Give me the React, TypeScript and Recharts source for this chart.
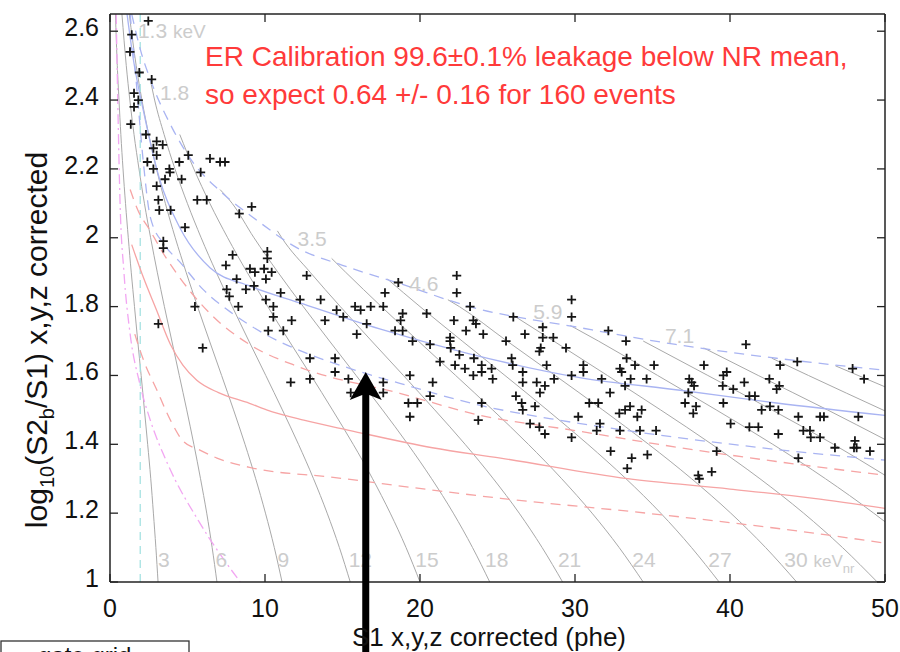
import React from 'react';
import { ComposedChart, Line, Scatter, XAxis, YAxis, ReferenceDot } from 'recharts';

type Pt = [number, number];

const xTicks = [0, 10, 20, 30, 40, 50];
const yTicks = [1, 1.2, 1.4, 1.6, 1.8, 2, 2.2, 2.4, 2.6];

// ER band (blue): mean and +/- limits
const erMean: Pt[] = [[1.1, 2.65], [1.5, 2.52], [2.15, 2.37], [3.2, 2.17], [4.5, 2.03], [6.45, 1.913], [9, 1.86], [12.3, 1.81], [17.4, 1.735], [23, 1.665], [30.3, 1.594], [36.8, 1.557], [43, 1.52], [50, 1.484]];
const erUpper: Pt[] = [[1.4, 2.65], [2.0, 2.54], [2.6, 2.46], [4, 2.32], [5.5, 2.21], [7, 2.14], [9.5, 2.05], [12.1, 1.97], [15, 1.92], [18.7, 1.867], [23.2, 1.8], [30.3, 1.739], [36.5, 1.69], [43, 1.65], [50, 1.615]];
const erLower: Pt[] = [[1.3, 2.65], [1.7, 2.45], [2.15, 2.22], [2.6, 2.06], [3.5, 1.98], [4.5, 1.93], [6, 1.85], [7.9, 1.78], [10, 1.72], [12.7, 1.664], [15.5, 1.62], [18.7, 1.577], [23.9, 1.513], [29, 1.47], [34.6, 1.432], [42, 1.39], [50, 1.354]];

// NR band (red)
const nrMean: Pt[] = [[1.4, 1.98], [2.15, 1.885], [3.0, 1.79], [3.9, 1.69], [4.7, 1.63], [5.6, 1.586], [7.0, 1.55], [9.0, 1.519], [10.1, 1.5], [12.5, 1.47], [15.5, 1.44], [20.8, 1.39], [25.2, 1.36], [33.4, 1.3], [40, 1.27], [45.4, 1.243], [50, 1.214]];
const nrUpper: Pt[] = [[1.3, 2.14], [1.8, 2.08], [2.6, 2.02], [3.5, 1.95], [4.5, 1.884], [6.45, 1.78], [9, 1.69], [12.3, 1.623], [18.7, 1.548], [23.9, 1.484], [30, 1.44], [36.8, 1.39], [43, 1.35], [50, 1.31]];
const nrLower: Pt[] = [[1.6, 1.72], [2.2, 1.64], [3.0, 1.56], [3.9, 1.47], [4.7, 1.41], [5.8, 1.383], [6.9, 1.36], [9, 1.333], [14.4, 1.304], [20.8, 1.267], [25.2, 1.243], [34.6, 1.2], [45.4, 1.142], [50, 1.113]];

const s2Threshold: Pt[] = [[0.4, 2.65], [0.5, 2.4], [0.65, 2.1], [0.9, 1.9], [1.3, 1.72], [1.9, 1.58], [2.6, 1.47], [3.7, 1.345], [5.8, 1.171], [8.4, 1.0]];
const s1Threshold: Pt[] = [[1.95, 1.0], [1.95, 2.65]];

// constant-energy contours (3, 6, 9 ... keVnr)
const contours: Pt[][] = [
  [[0.35, 2.65], [0.47, 2.5], [0.58, 2.4], [0.7, 2.3], [0.84, 2.2], [1.0, 2.1], [1.18, 2.0], [1.37, 1.9], [1.58, 1.8], [1.79, 1.7], [2.01, 1.6], [2.22, 1.5], [2.43, 1.4], [2.63, 1.3], [2.8, 1.2], [2.96, 1.1], [3.1, 1.0]],
  [[0.77, 2.65], [1.05, 2.5], [1.28, 2.4], [1.55, 2.3], [1.87, 2.2], [2.22, 2.1], [2.62, 2.0], [3.05, 1.9], [3.51, 1.8], [3.99, 1.7], [4.47, 1.6], [4.95, 1.5], [5.41, 1.4], [5.84, 1.3], [6.24, 1.2], [6.59, 1.1], [6.9, 1.0]],
  [[1.24, 2.65], [1.69, 2.5], [2.06, 2.4], [2.5, 2.3], [3.0, 2.2], [3.57, 2.1], [4.21, 2.0], [4.91, 1.9], [5.65, 1.8], [6.42, 1.7], [7.2, 1.6], [7.97, 1.5], [8.71, 1.4], [9.4, 1.3], [10.03, 1.2], [10.6, 1.1], [11.1, 1.0]],
  [[2.6, 2.46], [2.88, 2.4], [3.49, 2.3], [4.19, 2.2], [4.99, 2.1], [5.88, 2.0], [6.85, 1.9], [7.89, 1.8], [8.96, 1.7], [10.05, 1.6], [11.12, 1.5], [12.16, 1.4], [13.13, 1.3], [14.01, 1.2], [14.8, 1.1], [15.5, 1.0]],
  [[4.5, 2.3], [5.41, 2.2], [6.44, 2.1], [7.59, 2.0], [8.84, 1.9], [10.18, 1.8], [11.56, 1.7], [12.97, 1.6], [14.35, 1.5], [15.69, 1.4], [16.94, 1.3], [18.08, 1.2], [19.1, 1.1], [20, 1.0]],
  [[7.1, 2.14], [7.88, 2.1], [9.29, 2.0], [10.83, 1.9], [12.47, 1.8], [14.16, 1.7], [15.88, 1.6], [17.58, 1.5], [19.22, 1.4], [20.75, 1.3], [22.15, 1.2], [23.39, 1.1], [24.5, 1.0]],
  [[10.8, 2.02], [11.08, 2.0], [12.91, 1.9], [14.86, 1.8], [16.88, 1.7], [18.93, 1.6], [20.95, 1.5], [22.91, 1.4], [24.73, 1.3], [26.4, 1.2], [27.88, 1.1], [29.2, 1.0]],
  [[14.3, 1.94], [15.2, 1.9], [17.51, 1.8], [19.89, 1.7], [22.3, 1.6], [24.69, 1.5], [26.99, 1.4], [29.14, 1.3], [31.1, 1.2], [32.85, 1.1], [34.4, 1.0]],
  [[17.9, 1.88], [20.0, 1.8], [22.72, 1.7], [25.48, 1.6], [28.2, 1.5], [30.83, 1.4], [33.29, 1.3], [35.53, 1.2], [37.52, 1.1], [39.3, 1.0]],
  [[21.8, 1.82], [22.54, 1.8], [25.61, 1.7], [28.72, 1.6], [31.79, 1.5], [34.75, 1.4], [37.52, 1.3], [40.05, 1.2], [42.3, 1.1], [44.3, 1.0]],
  [[26, 1.775], [28.62, 1.7], [32.09, 1.6], [35.52, 1.5], [38.83, 1.4], [41.93, 1.3], [44.75, 1.2], [47.26, 1.1], [49.5, 1.0]],
  [[29.7, 1.745], [31.51, 1.7], [35.33, 1.6], [39.11, 1.5], [42.76, 1.4], [46.16, 1.3], [49.27, 1.2], [50, 1.175]],
  [[34.4, 1.7], [38.57, 1.6], [42.7, 1.5], [46.68, 1.4], [50, 1.31]],
  [[38.3, 1.68], [41.82, 1.6], [46.29, 1.5], [50, 1.414]],
  [[42.7, 1.65], [45.06, 1.6], [50, 1.497]],
  [[46.8, 1.628], [50, 1.567]],
];

const nrLabels: [string, number][] = [['3', 3.1], ['6', 6.8], ['9', 10.8], ['12', 15.4], ['15', 19.7], ['18', 24.2], ['21', 28.9], ['24', 33.7], ['27', 38.6]];
const eeLabels: [string, number, number][] = [['1.8', 3.23, 2.4], ['3.5', 12.1, 1.977], ['4.6', 19.3, 1.846], ['5.9', 27.3, 1.765], ['7.1', 35.8, 1.693]];

// events
const eventsLow: Pt[] = [[2.47, 2.63], [1.4, 2.59], [1.29, 2.54], [1.89, 2.48], [2.69, 2.46], [1.55, 2.42], [1.83, 2.4], [1.55, 2.38], [1.34, 2.33], [2.32, 2.3], [3.01, 2.28], [3.4, 2.27], [2.8, 2.26], [3.01, 2.24], [2.41, 2.22], [5.05, 2.24], [4.47, 2.22], [2.8, 2.2], [3.83, 2.2], [3.87, 2.19], [6.45, 2.23], [7.1, 2.22], [7.42, 2.22], [5.85, 2.19], [3.55, 2.17], [4.62, 2.17], [3.01, 2.15], [3.12, 2.11], [3.18, 2.08], [3.91, 2.08], [5.63, 2.11], [6.24, 2.11], [8.34, 2.07], [9.14, 2.09],
  [4.84, 2.03], [3.44, 1.99], [3.44, 1.97], [7.91, 1.95], [7.48, 1.92], [10.15, 1.96], [10.15, 1.94], [9.94, 1.91], [10.43, 1.9], [9.03, 1.91], [9.35, 1.9], [8.17, 1.88], [10.06, 1.88], [12.69, 1.89], [9.29, 1.86], [8.77, 1.85], [7.53, 1.85], [7.7, 1.83], [11.01, 1.84], [10.06, 1.82], [12.26, 1.82], [13.59, 1.82], [14.62, 1.79], [10.54, 1.8], [8.28, 1.8], [10.54, 1.77], [11.72, 1.76], [13.87, 1.76], [5.48, 1.8], [10.21, 1.73], [11.18, 1.73], [3.12, 1.75], [5.98, 1.68], [12.9, 1.65], [14.52, 1.65], [14.52, 1.61], [12.9, 1.59], [11.66, 1.58]];
const eventsMid: Pt[] = [[22.37, 1.89], [18.6, 1.87], [22.37, 1.84], [17.74, 1.84], [15.81, 1.8], [16.17, 1.79], [16.82, 1.8], [17.63, 1.8], [15.05, 1.77], [18.88, 1.78], [18.75, 1.76], [20.43, 1.78], [23.23, 1.8], [26.02, 1.77], [16.56, 1.75], [15.92, 1.72], [18.39, 1.73], [18.88, 1.73], [19.52, 1.7], [20.65, 1.69], [22.19, 1.76], [23.44, 1.76], [23.61, 1.75], [22.97, 1.73], [24.08, 1.72], [21.94, 1.71], [21.94, 1.7], [21.98, 1.68], [22.54, 1.66], [23.48, 1.65], [25.55, 1.7], [26.77, 1.72], [27.92, 1.74], [27.92, 1.71], [27.79, 1.68], [27.7, 1.67], [25.91, 1.65], [25.98, 1.63], [28.17, 1.63], [21.29, 1.64], [22.26, 1.63], [22.9, 1.62], [23.98, 1.63], [24.62, 1.62], [23.98, 1.61], [23.44, 1.6], [24.69, 1.59], [26.63, 1.61], [26.63, 1.58], [27.53, 1.58], [28.06, 1.57], [27.74, 1.55], [26.19, 1.54], [26.56, 1.52], [26.63, 1.5], [27.42, 1.51], [27.1, 1.46], [27.7, 1.45], [28.06, 1.43], [15.38, 1.59], [17.63, 1.58], [15.53, 1.55], [17.63, 1.55], [19.35, 1.6], [20.82, 1.58], [20.65, 1.54], [19.25, 1.52], [19.83, 1.52], [19.35, 1.48], [23.98, 1.52], [23.76, 1.47]];
const eventsHigh: Pt[] = [[29.78, 1.82], [29.78, 1.77], [32.15, 1.73], [28.6, 1.71], [29.42, 1.68], [33.29, 1.7], [33.33, 1.65], [33.87, 1.63], [32.9, 1.62], [33.01, 1.61], [33.59, 1.59], [33.23, 1.57], [30.54, 1.63], [30.54, 1.61], [28.65, 1.59], [29.78, 1.6], [31.72, 1.59], [34.62, 1.59], [35.1, 1.63], [32.26, 1.55], [30.92, 1.52], [31.5, 1.52], [33.55, 1.51], [34.3, 1.5], [33.23, 1.5], [32.86, 1.49], [34.02, 1.48], [30.21, 1.48], [31.61, 1.46], [31.4, 1.44], [32.9, 1.44], [34.19, 1.44], [35.23, 1.44], [29.78, 1.42], [32.3, 1.38], [34.67, 1.37], [33.66, 1.36], [33.37, 1.33], [38.32, 1.63], [37.37, 1.59], [37.53, 1.58], [37.68, 1.57], [37.31, 1.55], [37.1, 1.52], [37.81, 1.51], [37.63, 1.49], [39.14, 1.38], [38.82, 1.32], [37.95, 1.31], [38.02, 1.3],
  [41.03, 1.69], [44.34, 1.64], [47.91, 1.62], [48.65, 1.59], [43.23, 1.63], [39.79, 1.61], [39.57, 1.6], [40.92, 1.58], [42.54, 1.59], [43.18, 1.57], [43.01, 1.56], [39.53, 1.57], [40.21, 1.56], [41.25, 1.54], [41.61, 1.54], [39.57, 1.52], [42.04, 1.5], [42.58, 1.51], [43.12, 1.5], [44.41, 1.48], [45.81, 1.48], [46.06, 1.48], [48.28, 1.48], [40.04, 1.46], [41.25, 1.45], [41.83, 1.45], [43.12, 1.43], [44.73, 1.44], [45.16, 1.44], [45.21, 1.42], [45.81, 1.42], [46.77, 1.39], [48.06, 1.41], [48.0, 1.39], [48.17, 1.39], [49.03, 1.38], [44.41, 1.36]];

const toRows = (pts: Pt[]) => pts.map(([x, y]) => ({ x, y }));
const events = toRows([...eventsLow, ...eventsMid, ...eventsHigh]);

const FONT = '"Liberation Sans", Arial, Helvetica, sans-serif';
const LABEL_GREY = '#cccccc';
const AXIS = { stroke: '#222', strokeWidth: 1.5 };

const Plus = (p: any) => {
  const { cx, cy } = p;
  if (cx == null || cy == null) return null;
  return <path d={`M${cx - 4.5},${cy}H${cx + 4.5}M${cx},${cy - 4.5}V${cy + 4.5}`} stroke="#151515" strokeWidth={1.8} />;
};

const BottomTick = (p: any) => (
  <g>
    <line x1={p.x} y1={p.y} x2={p.x} y2={p.y - 8} stroke="#222" strokeWidth={1.3} />
    <text x={p.x} y={p.y + 35} textAnchor="middle" fontSize={25} fontFamily={FONT} fill="#111">{p.payload.value}</text>
  </g>
);
const TopTick = (p: any) => <line x1={p.x} y1={p.y} x2={p.x} y2={p.y + 8} stroke="#222" strokeWidth={1.3} />;
const LeftTick = (p: any) => (
  <g>
    <line x1={p.x} y1={p.y} x2={p.x + 8} y2={p.y} stroke="#222" strokeWidth={1.3} />
    <text x={p.x - 11} y={p.y + 5} textAnchor="end" fontSize={25} fontFamily={FONT} fill="#111">{String(p.payload.value)}</text>
  </g>
);
const RightTick = (p: any) => <line x1={p.x} y1={p.y} x2={p.x - 8} y2={p.y} stroke="#222" strokeWidth={1.3} />;

const greyText = (label: React.ReactNode) => (p: any) => (
  <text x={p.cx} y={p.cy} fontSize={21} fontFamily={FONT} fill={LABEL_GREY}>{label}</text>
);

const Arrow = (p: any) => {
  const { cx, cy } = p;
  return <path d={`M${cx},${cy} L${cx + 16},${cy + 28} L${cx + 3.5},${cy + 23} L${cx + 3.5},${cy + 400} L${cx - 3.5},${cy + 400} L${cx - 3.5},${cy + 23} L${cx - 16},${cy + 28} Z`} fill="#000" />;
};

const band = (pts: Pt[], color: string, dash?: string, key?: string) => (
  <Line key={key} data={toRows(pts)} dataKey="y" type="monotone" dot={false} stroke={color} strokeWidth={1.3} strokeDasharray={dash} isAnimationActive={false} />
);

export default function App() {
  return (
    <div style={{ position: 'absolute', left: 0, top: 0, width: 900, height: 652, overflow: 'hidden', background: '#fff' }}>
      <ComposedChart width={900} height={652} margin={{ top: 10, right: 11, bottom: 40, left: 50 }}>
        <XAxis dataKey="x" type="number" domain={[0, 50]} ticks={xTicks} interval={0} allowDataOverflow height={30} tickSize={0} tickMargin={0} tickLine={false} tick={BottomTick} axisLine={AXIS} />
        <XAxis xAxisId="top" orientation="top" dataKey="x" type="number" domain={[0, 50]} ticks={xTicks} interval={0} allowDataOverflow height={4} tickSize={0} tickMargin={0} tickLine={false} tick={TopTick} axisLine={AXIS} />
        <YAxis type="number" domain={[1, 2.65]} ticks={yTicks} interval={0} allowDataOverflow width={60} tickSize={0} tickMargin={0} tickLine={false} tick={LeftTick} axisLine={AXIS} />
        <YAxis yAxisId="right" orientation="right" type="number" domain={[1, 2.65]} ticks={yTicks} interval={0} allowDataOverflow width={4} tickSize={0} tickMargin={0} tickLine={false} tick={RightTick} axisLine={AXIS} />

        {contours.map((c, i) => (
          <Line key={`c${i}`} data={toRows(c)} dataKey="y" type="monotone" dot={false} stroke="#a9a9a9" strokeWidth={1} isAnimationActive={false} />
        ))}
        {band(s1Threshold, '#a6e2e2', '8 6', 's1')}
        {band(s2Threshold, '#f2a6f2', '10 4 2 4', 's2')}
        {band(nrMean, '#f6a4a4', undefined, 'nm')}
        {band(nrUpper, '#f6a4a4', '10 7', 'nu')}
        {band(nrLower, '#f6a4a4', '10 7', 'nl')}
        {band(erMean, '#a9b4f2', undefined, 'em')}
        {band(erUpper, '#a9b4f2', '10 7', 'eu')}
        {band(erLower, '#a9b4f2', '10 7', 'el')}

        {nrLabels.map(([t, x]) => (
          <ReferenceDot key={`n${t}`} x={x} y={1.043} r={0} shape={greyText(t)} />
        ))}
        <ReferenceDot x={43.5} y={1.043} r={0} shape={greyText(<>30 <tspan fontSize={17}>keV</tspan><tspan fontSize={13} dy={6}>nr</tspan></>)} />
        <ReferenceDot x={1.8} y={2.58} r={0} shape={greyText(<>1.3 <tspan fontSize={19}>keV</tspan></>)} />
        {eeLabels.map(([t, x, y]) => (
          <ReferenceDot key={`e${t}`} x={x} y={y} r={0} shape={greyText(t)} />
        ))}

        <Scatter data={events} dataKey="y" shape={Plus} isAnimationActive={false} />
        <ReferenceDot x={16.5} y={1.61} r={0} shape={Arrow} />
      </ComposedChart>

      <svg width={900} height={652} style={{ position: 'absolute', left: 0, top: 0, pointerEvents: 'none' }}>
        <text x={205} y={66} fontSize={28} fontFamily={FONT} fill="#ff3a3a">ER Calibration 99.6±0.1% leakage below NR mean,</text>
        <text x={205} y={104} fontSize={28} fontFamily={FONT} fill="#ff3a3a">so expect 0.64 +/- 0.16 for 160 events</text>
        <text x={489} y={646} textAnchor="middle" fontSize={26} fontFamily={FONT} fill="#111">S1 x,y,z corrected (phe)</text>
        <text x={47} y={340} textAnchor="middle" fontSize={30} fontFamily={FONT} fill="#111" transform="rotate(-90 47 340)">
          log<tspan fontSize={20} dy={7}>10</tspan><tspan dy={-7}>(S2</tspan><tspan fontSize={20} dy={7}>b</tspan><tspan dy={-7}>/S1) x,y,z corrected</tspan>
        </text>
        <rect x={1} y={641} width={188} height={40} fill="#fff" stroke="#333" strokeWidth={1.3} />
        <text x={38} y={664} fontSize={24} fontFamily={FONT} fill="#111">gate grid</text>
      </svg>
    </div>
  );
}
